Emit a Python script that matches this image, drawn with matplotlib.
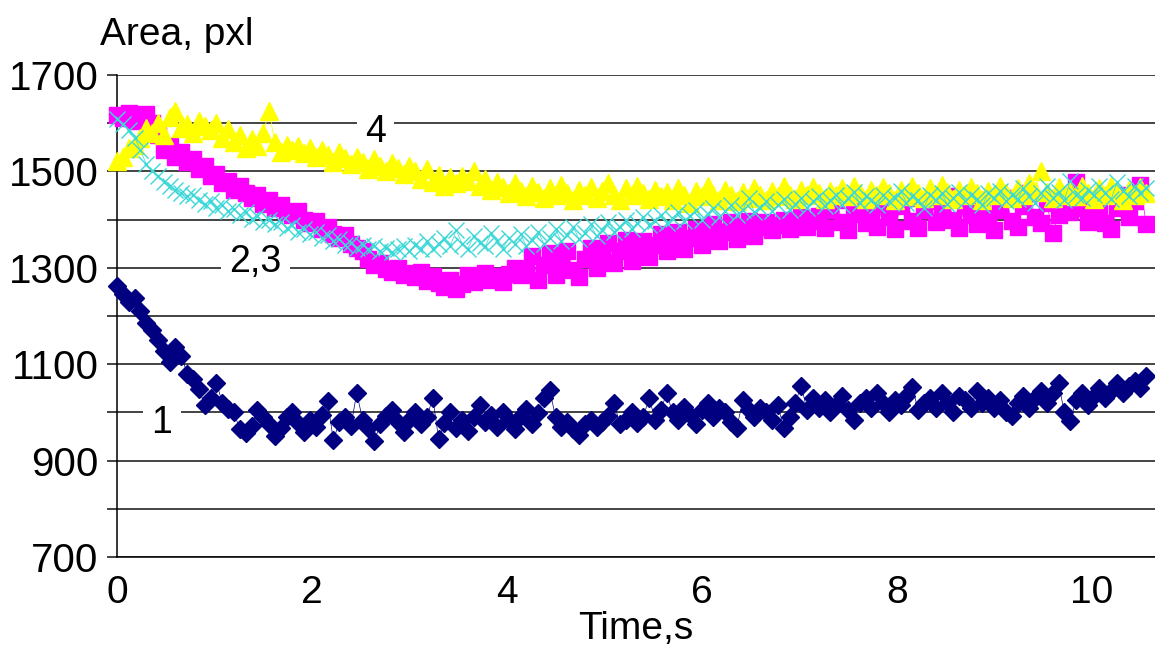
import numpy as np
import matplotlib
matplotlib.use("Agg")
import matplotlib.pyplot as plt
from matplotlib.ticker import FuncFormatter, MultipleLocator

plt.rcParams['font.family'] = ['Liberation Sans', 'DejaVu Sans']

# frame interval, s
DT = 0.06

# curve 1 (navy diamonds)
area1 = [1262, 1245, 1228, 1238, 1210, 1185, 1170, 1150, 1128, 1105,
         1135, 1118, 1080, 1070, 1048, 1015, 1030, 1062, 1020, 1008,
         1000, 965, 958, 972, 1005, 990, 975, 952, 968, 990,
         1000, 978, 960, 985, 970, 995, 1024, 942, 980, 990,
         972, 1040, 985, 968, 940, 975, 992, 1005, 980, 960,
         985, 1000, 975, 990, 1030, 945, 978, 1000, 968, 985,
         962, 990, 1015, 980, 995, 970, 1000, 985, 965, 992,
         1008, 975, 998, 1030, 1046, 990, 970, 980, 965, 953,
         975, 985, 970, 980, 992, 1020, 975, 985, 1000, 978,
         990, 1030, 985, 1005, 1040, 1000, 985, 1012, 995, 975,
         1005, 1020, 990, 1010, 1000, 980, 968, 1025, 1005, 990,
         1010, 1000, 985, 1015, 968, 990, 1020, 1055, 1005, 1030,
         1010, 1025, 1000, 1015, 1035, 1005, 985, 1020, 1030, 1010,
         1040, 1020, 1000, 1025, 1015, 1035, 1052, 1005, 1020, 1030,
         1010, 1040, 1020, 1000, 1035, 1025, 1010, 1045, 1020, 1030,
         1010, 1025, 1000, 992, 1020, 1035, 1010, 1030, 1045, 1020,
         1040, 1060, 1000, 982, 1025, 1040, 1015, 1035, 1050, 1030,
         1045, 1060, 1040, 1055, 1065, 1050, 1075]

# curve 2 (magenta squares)
area2 = [1618, 1610, 1622, 1605, 1615, 1620, 1600, 1575, 1545, 1552,
         1530, 1540, 1520, 1525, 1505, 1512, 1490, 1495, 1475, 1480,
         1462, 1470, 1455, 1445, 1450, 1432, 1440, 1425, 1430, 1415,
         1410, 1418, 1400, 1392, 1398, 1380, 1385, 1370, 1362, 1368,
         1350, 1342, 1335, 1318, 1305, 1310, 1298, 1292, 1300, 1285,
         1290, 1280, 1292, 1272, 1282, 1268, 1260, 1275, 1255, 1266,
         1285, 1270, 1278, 1290, 1275, 1282, 1270, 1288, 1300, 1285,
         1295, 1325, 1275, 1305, 1330, 1285, 1310, 1335, 1295, 1280,
         1318, 1342, 1300, 1330, 1352, 1310, 1335, 1358, 1315, 1340,
         1355, 1322, 1348, 1370, 1335, 1355, 1375, 1340, 1362, 1380,
         1348, 1368, 1390, 1355, 1375, 1395, 1360, 1382, 1398, 1365,
         1385, 1395, 1378, 1388, 1400, 1380, 1392, 1405, 1385, 1398,
         1408, 1382, 1420, 1440, 1395, 1378, 1412, 1435, 1392, 1418,
         1385, 1432, 1405, 1380, 1428, 1445, 1398, 1382, 1420, 1438,
         1395, 1425, 1448, 1400, 1382, 1430, 1410, 1390, 1440, 1405,
         1378, 1420, 1445, 1398, 1385, 1428, 1455, 1405, 1392, 1435,
         1372, 1410, 1448, 1415, 1478, 1425, 1395, 1440, 1418, 1392,
         1380, 1425, 1452, 1405, 1438, 1472, 1390]

# curve 3 (cyan crosses)
area3 = [1608, 1598, 1585, 1570, 1545, 1515, 1500, 1490, 1478, 1470,
         1462, 1455, 1448, 1452, 1440, 1432, 1438, 1425, 1430, 1418,
         1422, 1410, 1415, 1402, 1408, 1395, 1400, 1390, 1395, 1382,
         1388, 1375, 1380, 1370, 1375, 1362, 1368, 1355, 1360, 1348,
         1352, 1342, 1348, 1338, 1345, 1335, 1342, 1332, 1340, 1345,
         1335, 1348, 1340, 1355, 1338, 1350, 1362, 1345, 1378, 1350,
         1340, 1365, 1352, 1345, 1372, 1355, 1340, 1362, 1350, 1370,
         1345, 1358, 1375, 1350, 1362, 1380, 1355, 1368, 1385, 1360,
         1372, 1390, 1365, 1378, 1395, 1375, 1385, 1400, 1380, 1392,
         1405, 1388, 1398, 1410, 1392, 1402, 1415, 1398, 1408, 1420,
         1400, 1412, 1425, 1405, 1418, 1430, 1410, 1420, 1445, 1415,
         1425, 1438, 1418, 1430, 1442, 1420, 1432, 1445, 1425, 1438,
         1448, 1428, 1440, 1452, 1430, 1445, 1458, 1435, 1448, 1440,
         1430, 1452, 1438, 1445, 1460, 1435, 1448, 1440, 1425, 1452,
         1440, 1455, 1432, 1445, 1458, 1438, 1450, 1442, 1430, 1455,
         1445, 1460, 1438, 1450, 1442, 1465, 1448, 1435, 1455, 1470,
         1445, 1458, 1440, 1480, 1452, 1445, 1462, 1450, 1470, 1455,
         1442, 1478, 1460, 1448, 1470, 1455, 1465]

# curve 4 (yellow triangles)
area4 = [1522, 1530, 1548, 1555, 1570, 1590, 1580, 1600, 1575, 1612,
         1625, 1590, 1598, 1580, 1605, 1595, 1585, 1600, 1570, 1588,
         1560, 1575, 1548, 1568, 1552, 1580, 1625, 1560, 1540, 1555,
         1545, 1552, 1538, 1548, 1530, 1545, 1535, 1520, 1540, 1528,
         1515, 1530, 1520, 1505, 1525, 1512, 1500, 1518, 1508, 1495,
         1512, 1500, 1485, 1505, 1478, 1492, 1470, 1488, 1475, 1490,
         1480, 1500, 1470, 1485, 1462, 1478, 1468, 1455, 1475, 1460,
         1448, 1470, 1458, 1445, 1465, 1450, 1472, 1455, 1440, 1462,
         1450, 1468, 1445, 1460, 1475, 1452, 1440, 1465, 1450, 1470,
         1455, 1442, 1462, 1448, 1458, 1440, 1465, 1450, 1435, 1460,
         1448, 1470, 1452, 1440, 1462, 1450, 1438, 1458, 1445, 1465,
         1450, 1440, 1460, 1448, 1470, 1452, 1442, 1462, 1450, 1468,
         1455, 1442, 1460, 1450, 1465, 1448, 1470, 1455, 1442, 1462,
         1450, 1468, 1455, 1440, 1462, 1448, 1470, 1455, 1445, 1465,
         1450, 1472, 1458, 1442, 1462, 1450, 1468, 1455, 1440, 1460,
         1452, 1470, 1455, 1445, 1465, 1452, 1475, 1460, 1500, 1458,
         1445, 1468, 1452, 1462, 1448, 1470, 1455, 1442, 1465, 1450,
         1470, 1455, 1440, 1462, 1452, 1468, 1455]

t = np.arange(len(area1)) * DT

fig = plt.figure(figsize=(11.55, 6.59), dpi=100)
ax = fig.add_axes([0.1013, 0.1548, 0.8987, 0.7314])

# drawing order like the original sheet: 1, 2, 4, 3
ax.plot(t, area1, color='#000080', lw=0.5, marker='D', ms=9.5, mec='#000080', clip_on=False, zorder=3)
ax.plot(t, area2, color='#FF00FF', lw=0.5, marker='s', ms=11, mec='#FF00FF', clip_on=False, zorder=4)
ax.plot(t, area4, color='#FFFF00', lw=0.5, marker='^', ms=12.5, mec='#FFFF00', clip_on=False, zorder=5)
ax.plot(t, area3, color='#3CD8D8', lw=0.5, marker='x', ms=12, mew=1.0, clip_on=False, zorder=6)

ax.set_xlim(0, 10.65)
ax.set_ylim(700, 1700)
ax.xaxis.set_major_locator(MultipleLocator(2))
ax.yaxis.set_major_locator(MultipleLocator(100))

def ylab(v, pos):
    if int(round(v - 700)) % 200 == 0:
        return "%d" % v
    return ""

ax.yaxis.set_major_formatter(FuncFormatter(ylab))
ax.tick_params(axis='y', length=7.2, width=1.1, direction='out', pad=6, labelsize=29, color='#111111')
ax.tick_params(axis='x', length=0, pad=13, labelsize=28)
ax.grid(True, axis='y', color='#111111', lw=1.1, zorder=1)
ax.set_axisbelow(True)

for s in ['top', 'right']:
    ax.spines[s].set_visible(False)
ax.spines['left'].set_linewidth(1.1)
ax.spines['bottom'].set_linewidth(1.1)

ax.set_xlabel('Time,s', fontsize=28, labelpad=0)
fig.text(100 / 1155, 1 - 45 / 659, 'Area, pxl', fontsize=28, ha='left', va='baseline')

box = dict(facecolor='white', edgecolor='none', pad=6)
ax.text(2.65, 1561, '4', fontsize=27, ha='center', va='baseline', bbox=box, zorder=2)
ax.text(1.42, 1291, '2,3', fontsize=27, ha='center', va='baseline', bbox=box, zorder=2)
ax.text(0.46, 957, '1', fontsize=27, ha='center', va='baseline', bbox=box, zorder=2)

fig.savefig('out.png', dpi=100)
